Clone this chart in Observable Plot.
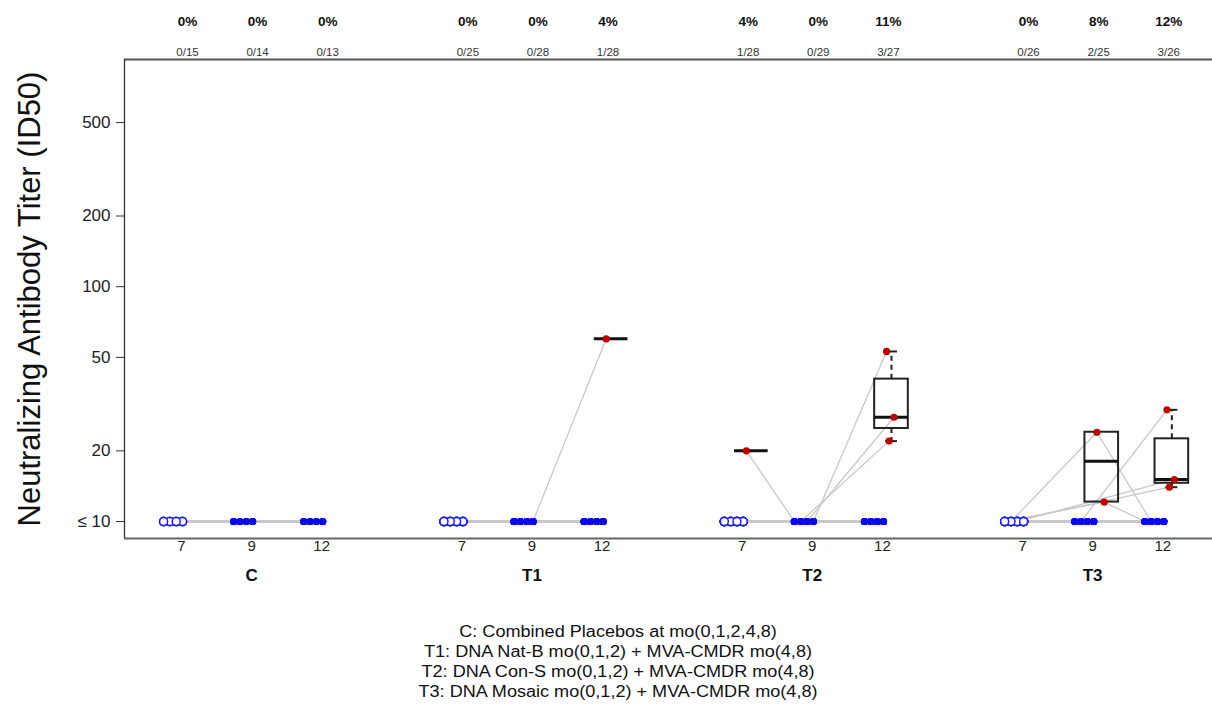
<!DOCTYPE html>
<html><head><meta charset="utf-8">
<script src="https://cdn.jsdelivr.net/npm/d3@7"></script>
<script src="https://cdn.jsdelivr.net/npm/@observablehq/plot@0.6"></script>
<style>
body{margin:0;background:#fff;font-family:"Liberation Sans",Arial,Helvetica,sans-serif;}
#chart svg{display:block;}
#caption{padding-left:24px;text-align:center;font-size:16px;line-height:20px;color:#111;margin-top:22px;}
#caption div{transform:scaleX(1.13);transform-origin:center;}
</style></head><body>
<div id="chart"></div>
<div id="caption"></div>
<script>
// ---- data ----
const groups = ["C", "T1", "T2", "T3"];
const weeks = [7, 9, 12];
const nTested = [[15, 14, 13], [25, 28, 28], [28, 29, 27], [26, 25, 26]];
// responder trajectories (titer at weeks 7, 9, 12; 10 = "≤10", null = missing)
const responderGroup = ["T1", "T2", "T2", "T2", "T2", "T3", "T3", "T3", "T3", "T3"];
const responderWk7  = [10, 20, 10, 10, 10, 10, 10, 10, 10, 10];
const responderWk9  = [10, 10, 10, 10, 10, 24.0, 12.1, 10, null, null];
const responderWk12 = [60, 10, 53, 27.8, 22.0, 10, 10, 29.9, 15.1, 14.0];
const yTicks = [10, 20, 50, 100, 200, 500];
const lod = 10;
const yTitle = "Neutralizing Antibody Titer (ID50)";
const captionLines = [
  "C: Combined Placebos at mo(0,1,2,4,8)",
  "T1: DNA Nat-B mo(0,1,2) + MVA-CMDR mo(4,8)",
  "T2: DNA Con-S mo(0,1,2) + MVA-CMDR mo(4,8)",
  "T3: DNA Mosaic mo(0,1,2) + MVA-CMDR mo(4,8)"
];

// ---- build participant table ----
const respCols = [responderWk7, responderWk9, responderWk12];
const participants = [];
groups.forEach((g, gi) => {
  const resp = responderGroup.map((rg, i) => rg === g ? i : -1).filter(i => i >= 0);
  const fill = weeks.map((w, k) => nTested[gi][k] - resp.filter(ri => respCols[k][ri] != null).length);
  const F = Math.max(...fill);
  const fillers = [];
  for (let j = 0; j < F; j++) fillers.push({pid: g + "-f" + j, gi, vals: weeks.map((w, k) => j < fill[k] ? lod : null)});
  const rs = resp.map((ri, j) => ({pid: g + "-r" + j, gi, vals: respCols.map(c => c[ri])}));
  const half = Math.floor(fillers.length / 2);
  participants.push(...fillers.slice(0, half), ...rs, ...fillers.slice(half));
});

// deterministic horizontal spread (position only)
const jb = i => (((i * 3) % 4) - 1.5) * 0.09;
const jr = i => (((i * 3) % 5) - 2) * 0.035;
const counters = {};
const points = [];
participants.forEach(p => {
  p.vals.forEach((v, k) => {
    if (v == null) return;
    const slot = p.gi * 4 + k;
    const pos = v > lod;
    const key = slot + (pos ? "p" : "n");
    const i = counters[key] = (counters[key] ?? -1) + 1;
    points.push({pid: p.pid, k, slot, y: v, pos, x: pos ? slot + 0.13 + jr(i) : slot - 0.12 + jb(i)});
  });
});

const cells = [];
groups.forEach((g, gi) => weeks.forEach((w, k) => {
  const slot = gi * 4 + k;
  const vals = points.filter(d => d.slot === slot && d.pos).map(d => d.y).sort(d3.ascending);
  const n = nTested[gi][k];
  cells.push({slot, week: w, n, npos: vals.length, pct: Math.round(vals.length / n * 100), vals});
}));
// Tukey five-number summary (as in R's boxplot)
function fivenum(x) {
  const n = x.length, n4 = Math.floor((n + 3) / 2) / 2;
  return [1, n4, (n + 1) / 2, n + 1 - n4, n].map(d => 0.5 * (x[Math.floor(d) - 1] + x[Math.ceil(d) - 1]));
}
const stats = cells.filter(c => c.npos > 0).map(c => {
  const v = c.vals;
  const [, q1, med, q3] = fivenum(v);
  const iqr = q3 - q1;
  const hi = d3.max(v.filter(d => d <= q3 + 1.5 * iqr));
  const lo = d3.min(v.filter(d => d >= q1 - 1.5 * iqr));
  return {x: c.slot + 0.13, q1, med, q3, hi, lo, n: v.length};
});

const xDomain = [-0.813, 14.71];
const yDomain = [8.466, 928];
const ink = "#222";

const chart = Plot.plot({
  width: 1212, height: 600,
  marginLeft: 124, marginRight: 0, marginTop: 59, marginBottom: 62,
  style: {fontFamily: '"Liberation Sans", Arial, Helvetica, sans-serif', background: "#fff", color: "#222"},
  x: {type: "linear", domain: xDomain, axis: null},
  y: {type: "log", domain: yDomain},
  marks: [
    Plot.ruleY([yDomain[1]], {stroke: "#555", strokeWidth: 2}),
    Plot.ruleX([xDomain[0]], {stroke: "#333", strokeWidth: 1.3}),
    Plot.ruleY([yDomain[0]], {stroke: "#666", strokeWidth: 2.2}),
    Plot.axisY({ticks: yTicks, tickFormat: d => d === lod ? "≤ 10" : String(d), tickSize: 8, tickPadding: 6, fontSize: 17, label: null, stroke: "#333"}),
    Plot.text([yTitle], {frameAnchor: "left", textAnchor: "middle", dx: -94, rotate: -90, text: d => d, fontSize: 31, fill: "#111"}),
    Plot.line(points, {x: "x", y: "y", z: "pid", stroke: "#c8c8c8", strokeWidth: 1.3}),
    Plot.rect(stats.filter(s => s.q3 > s.q1), {x1: d => d.x - 0.24, x2: d => d.x + 0.24, y1: "q1", y2: "q3", stroke: ink, strokeWidth: 2, fill: "none"}),
    Plot.ruleX(stats.filter(s => s.hi > s.q3), {x: "x", y1: "q3", y2: "hi", stroke: ink, strokeWidth: 2, strokeDasharray: "5,4"}),
    Plot.ruleX(stats.filter(s => s.lo < s.q1), {x: "x", y1: "q1", y2: "lo", stroke: ink, strokeWidth: 2, strokeDasharray: "5,4"}),
    Plot.ruleY(stats.filter(s => s.hi > s.q3), {y: "hi", x1: d => d.x - 0.085, x2: d => d.x + 0.085, stroke: ink, strokeWidth: 2}),
    Plot.ruleY(stats.filter(s => s.lo < s.q1), {y: "lo", x1: d => d.x - 0.085, x2: d => d.x + 0.085, stroke: ink, strokeWidth: 2}),
    Plot.ruleY(stats, {y: "med", x1: d => d.x - 0.24, x2: d => d.x + 0.24, stroke: "#111", strokeWidth: 3}),
    Plot.dot(points.filter(d => !d.pos && d.k === 0), {x: "x", y: "y", r: 4, stroke: "#1a1aff", strokeWidth: 1.5, fill: "white"}),
    Plot.dot(points.filter(d => !d.pos && d.k > 0), {x: "x", y: "y", r: 3.6, fill: "#0a0ae8"}),
    Plot.dot(points.filter(d => d.pos), {x: "x", y: "y", r: 3.6, fill: "#c00000"}),
    Plot.text(cells, {x: "slot", text: d => d.pct + "%", frameAnchor: "top", dy: -43, dx: 6, fontWeight: "bold", fontSize: 13.5, fill: "#111"}),
    Plot.text(cells, {x: "slot", text: d => d.npos + "/" + d.n, frameAnchor: "top", dy: -12, dx: 6, fontSize: 11.5, fill: "#333"}),
    Plot.text(cells, {x: "slot", text: d => String(d.week), frameAnchor: "bottom", dy: 12, fontSize: 15, fill: "#222"}),
    Plot.text(groups, {x: (d, i) => i * 4 + 1, text: d => d, frameAnchor: "bottom", dy: 42, fontWeight: "bold", fontSize: 17, fill: "#111"})
  ]
});
document.getElementById("chart").appendChild(chart);
document.getElementById("caption").innerHTML = captionLines.map(s => "<div>" + s + "</div>").join("");
</script>
</body></html>
